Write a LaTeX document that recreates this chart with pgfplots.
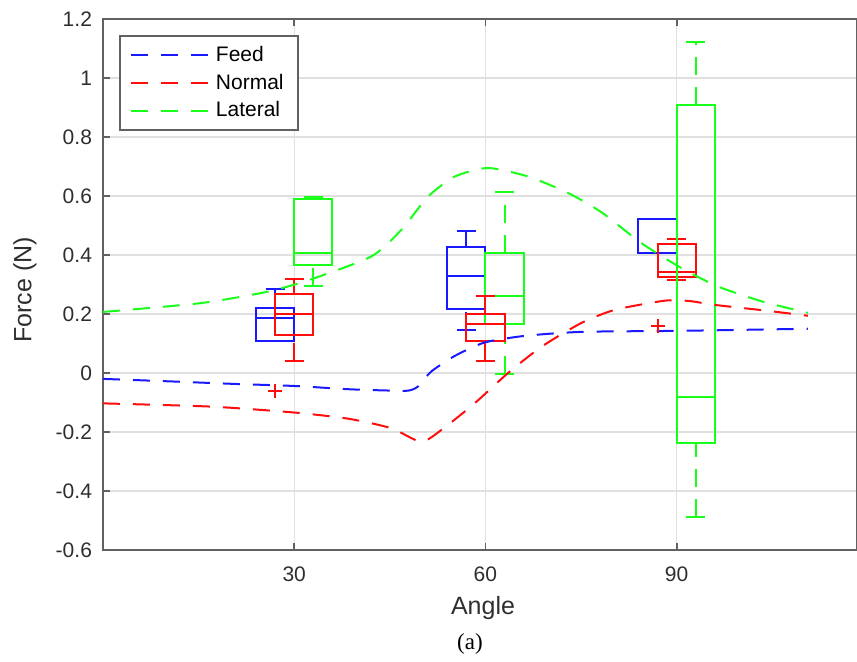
\documentclass[border=0pt]{standalone}
\usepackage{pgfplots}
\pgfplotsset{compat=1.18}
\usepgfplotslibrary{statistics}
\usepackage{fontspec}
\setmainfont{Liberation Sans}
\newfontfamily\seriffont{Liberation Serif}
\definecolor{axgray}{gray}{0.38}
\definecolor{gridgray}{gray}{0.88}
\definecolor{tickgray}{gray}{0.18}
\definecolor{mblue}{rgb}{0.1,0.1,1}
\definecolor{mred}{rgb}{1,0.05,0.05}
\definecolor{mgreen}{rgb}{0.1,1,0.1}
\begin{document}
\begin{tikzpicture}
\useasboundingbox (-51.5pt,-56pt) rectangle (377pt,275pt);
\begin{axis}[
  scale only axis, width=377pt, height=265.5pt,
  xmin=0, xmax=118.3, ymin=-0.6, ymax=1.2,
  xtick={30,60,90},
  ytick={-0.6,-0.4,-0.2,0,0.2,0.4,0.6,0.8,1,1.2},
  grid=major,
  major grid style={gridgray, line width=0.6pt},
  axis line style={axgray, line width=1.1pt},
  tick style={axgray, line width=0.9pt},
  major tick length=3.5pt,
  tick align=inside,
  xtick pos=both, ytick pos=left,
  /pgf/number format/assume math mode=true,
  ticklabel style={font=\fontsize{10.5}{12}\selectfont, text=tickgray},
  xticklabel style={yshift=-5pt},
  yticklabel style={xshift=-2pt},
  xlabel={Angle}, ylabel={Force (N)},
  label style={font=\fontsize{12.5}{14}\selectfont, text=tickgray},
  xlabel style={at={(axis description cs:0.504,0)}, anchor=center, yshift=-29pt},
  ylabel style={at={(axis description cs:-0.1035,0.49)}, anchor=center},
  legend style={at={(axis description cs:0.021,0.97)}, anchor=north west,
    draw=axgray, line width=1.1pt, fill=white, font=\fontsize{10.5}{12}\selectfont,
    row sep=0.8pt, column sep=1.5pt, inner xsep=5pt, inner ysep=3pt},
  legend cell align=left,
  legend image code/.code={\draw[#1, line width=1pt] (0pt,0pt) -- (38.5pt,0pt);},
  boxplot/draw direction=y,
  boxplot/box extend=6,
  boxplot/whisker extend=3,
  boxplot/draw/lower whisker/.code={
    \draw[dash pattern=on 9pt off 6pt]
      (boxplot cs:\pgfplotsboxplotvalue{lower whisker}) --
      (boxplot cs:\pgfplotsboxplotvalue{lower quartile});
    \draw (boxplot whisker cs:\pgfplotsboxplotvalue{lower whisker},0) --
      (boxplot whisker cs:\pgfplotsboxplotvalue{lower whisker},1);
  },
  boxplot/draw/upper whisker/.code={
    \draw[dash pattern=on 9pt off 6pt]
      (boxplot cs:\pgfplotsboxplotvalue{upper quartile}) --
      (boxplot cs:\pgfplotsboxplotvalue{upper whisker});
    \draw (boxplot whisker cs:\pgfplotsboxplotvalue{upper whisker},0) --
      (boxplot whisker cs:\pgfplotsboxplotvalue{upper whisker},1);
  },
]
% ---- box plots (angle 30) ----
\addplot[forget plot, mblue, line width=1pt, solid, boxplot prepared={draw position=27,
  lower whisker=0.109, lower quartile=0.109, median=0.188, upper quartile=0.220, upper whisker=0.284}] coordinates {};
\addplot[forget plot, mred, line width=1pt, solid, boxplot prepared={draw position=30,
  lower whisker=0.042, lower quartile=0.129, median=0.199, upper quartile=0.267, upper whisker=0.318}] coordinates {};
\addplot[forget plot, mgreen, line width=1pt, solid, boxplot prepared={draw position=33,
  lower whisker=0.295, lower quartile=0.366, median=0.408, upper quartile=0.589, upper whisker=0.596}] coordinates {};
% ---- box plots (angle 60) ----
\addplot[forget plot, mblue, line width=1pt, solid, boxplot prepared={draw position=57,
  lower whisker=0.146, lower quartile=0.216, median=0.330, upper quartile=0.428, upper whisker=0.482}] coordinates {};
\addplot[forget plot, mgreen, line width=1pt, solid, boxplot prepared={draw position=63,
  lower whisker=-0.003, lower quartile=0.165, median=0.261, upper quartile=0.408, upper whisker=0.612}] coordinates {};
\addplot[forget plot, mred, line width=1pt, solid, boxplot prepared={draw position=60,
  lower whisker=0.042, lower quartile=0.110, median=0.165, upper quartile=0.199, upper whisker=0.262}] coordinates {};
% ---- box plots (angle 90) ----
\addplot[forget plot, mblue, line width=1pt, solid, boxplot prepared={draw position=87,
  lower whisker=0.406, lower quartile=0.406, median=0.523, upper quartile=0.523, upper whisker=0.523}] coordinates {};
\addplot[forget plot, mred, line width=1pt, solid, boxplot prepared={draw position=90,
  lower whisker=0.316, lower quartile=0.327, median=0.342, upper quartile=0.438, upper whisker=0.455}] coordinates {};
\addplot[forget plot, mgreen, line width=1pt, solid, boxplot prepared={draw position=93,
  lower whisker=-0.488, lower quartile=-0.236, median=-0.080, upper quartile=0.907, upper whisker=1.122}] coordinates {};
% ---- outliers ----
\addplot[forget plot, only marks, mark=+, mark size=3.5pt, mred, line width=1pt]
  coordinates {(27,-0.061) (87,0.160)};
% ---- fitted curves ----
\addplot[mblue, line width=1pt, dash pattern=on 8.5pt off 6.5pt, smooth, tension=0.4] coordinates {
 (0,-0.020) (10,-0.028) (20.6,-0.037) (30,-0.044) (38.5,-0.055) (44,-0.059) (47.8,-0.060)
 (49.4,-0.046) (51.5,0.005) (55.2,0.058) (59.8,0.103) (65.1,0.123) (70,0.133) (76,0.140)
 (90.8,0.143) (110.6,0.150)};
\addlegendentry{Feed}
\addplot[mred, line width=1pt, dash pattern=on 8.5pt off 6.5pt, smooth, tension=0.4] coordinates {
 (0,-0.103) (17,-0.114) (30,-0.134) (38.5,-0.155) (45.2,-0.187) (49.9,-0.233) (53.1,-0.193)
 (58.3,-0.103) (63.5,-0.001) (68.8,0.089) (75,0.169) (80.3,0.214) (88.1,0.245) (92,0.244)
 (95.9,0.231) (103.8,0.212) (110.6,0.194)};
\addlegendentry{Normal}
\addplot[mgreen, line width=1pt, dash pattern=on 8.5pt off 6.5pt, smooth, tension=0.4] coordinates {
 (0,0.207) (15.4,0.237) (25.9,0.276) (32.7,0.318) (42.1,0.395) (46.8,0.485) (51,0.598)
 (55.2,0.666) (60.4,0.695) (66.7,0.666) (73,0.610) (78.2,0.545) (84.5,0.440) (90.8,0.355)
 (96.5,0.293) (103.5,0.242) (110.6,0.204)};
\addlegendentry{Lateral}
\end{axis}
\node[font=\seriffont\fontsize{11.5}{13}\selectfont, anchor=center] at (183.5pt,-47pt) {(a)};
\end{tikzpicture}
\end{document}
